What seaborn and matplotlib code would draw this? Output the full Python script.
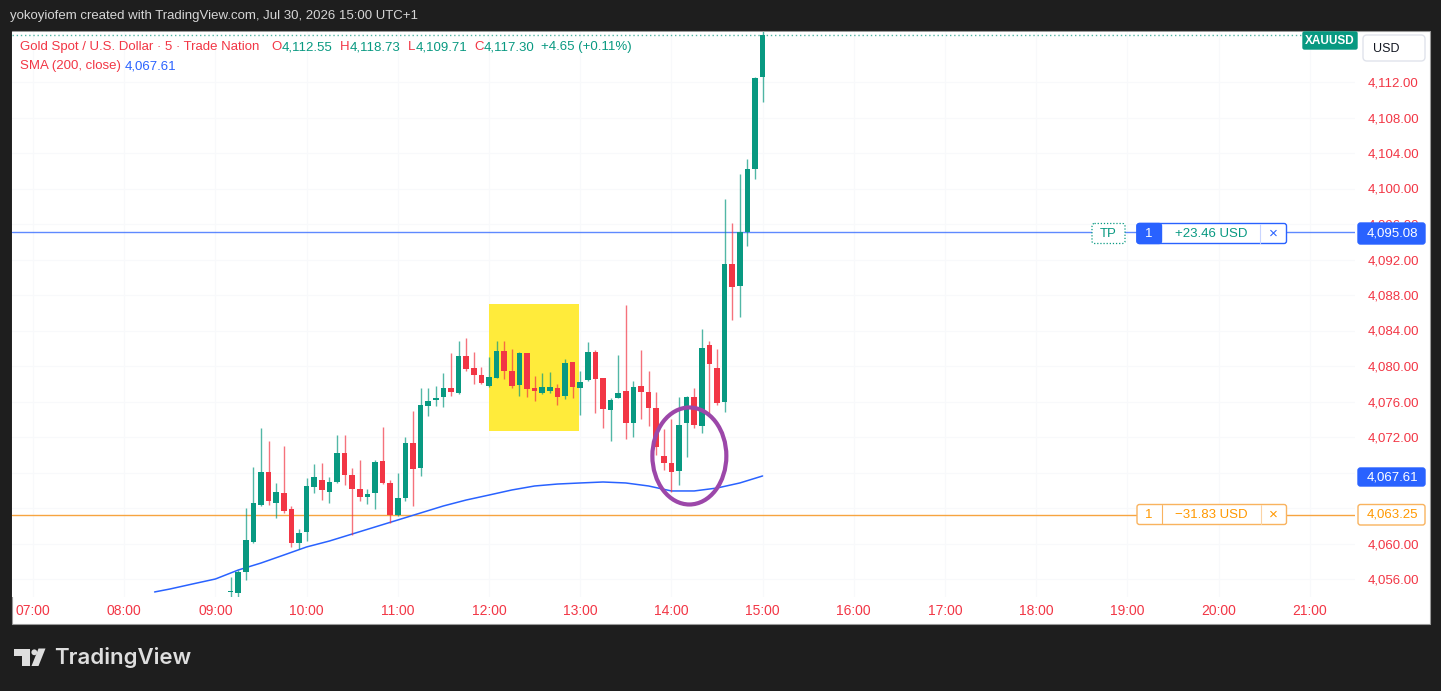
import numpy as np
import pandas as pd
import seaborn as sns
import matplotlib.pyplot as plt
from matplotlib.patches import Rectangle, Ellipse, Polygon, Circle, FancyBboxPatch

# 5-minute candles
times = ["09:10", "09:15", "09:20", "09:25", "09:30", "09:35", "09:40", "09:45", "09:50", "09:55",
         "10:00", "10:05", "10:10", "10:15", "10:20", "10:25", "10:30", "10:35", "10:40", "10:45",
         "10:50", "10:55", "11:00", "11:05", "11:10", "11:15", "11:20", "11:25", "11:30", "11:35",
         "11:40", "11:45", "11:50", "11:55", "12:00", "12:05", "12:10", "12:15", "12:20", "12:25",
         "12:30", "12:35", "12:40", "12:45", "12:50", "12:55", "13:00", "13:05", "13:10", "13:15",
         "13:20", "13:25", "13:30", "13:35", "13:40", "13:45", "13:50", "13:55", "14:00", "14:05",
         "14:10", "14:15", "14:20", "14:25", "14:30", "14:35", "14:40", "14:45", "14:50", "14:55",
         "15:00"]
opens = [4054.50, 4054.38, 4056.83, 4060.21, 4064.34, 4068.09, 4064.53, 4065.65, 4063.85, 4060.09,
         4061.33, 4066.33, 4067.15, 4065.84, 4066.97, 4070.23, 4067.72, 4066.18, 4065.28, 4065.65,
         4069.30, 4066.78, 4063.21, 4065.09, 4071.29, 4068.55, 4075.53, 4076.17, 4076.54, 4077.48,
         4076.99, 4081.13, 4079.74, 4078.99, 4077.75, 4078.69, 4081.69, 4079.44, 4077.86, 4081.43,
         4077.49, 4076.92, 4077.22, 4077.49, 4076.66, 4080.41, 4077.49, 4078.42, 4081.61, 4078.61,
         4075.04, 4076.43, 4077.18, 4073.54, 4077.79, 4077.11, 4075.30, 4069.90, 4069.03, 4068.17,
         4073.54, 4076.54, 4073.24, 4082.37, 4079.81, 4075.98, 4091.49, 4089.01, 4095.13, 4102.20,
         4112.55]
highs = [4056.26, 4057.01, 4063.96, 4068.58, 4072.98, 4071.55, 4066.85, 4070.99, 4064.23, 4061.60,
         4067.34, 4068.92, 4069.03, 4067.53, 4072.22, 4072.22, 4068.47, 4069.41, 4066.18, 4069.41,
         4073.16, 4067.15, 4067.98, 4072.04, 4074.93, 4077.48, 4077.48, 4077.75, 4079.25, 4081.43,
         4082.85, 4083.12, 4081.62, 4079.92, 4081.05, 4082.82, 4082.86, 4081.88, 4081.54, 4081.50,
         4078.87, 4079.25, 4079.32, 4077.94, 4080.75, 4080.50, 4079.47, 4082.74, 4081.80, 4078.70,
         4076.36, 4081.24, 4086.87, 4078.31, 4081.80, 4079.44, 4077.11, 4072.86, 4073.99, 4076.54,
         4076.62, 4077.48, 4084.13, 4082.86, 4081.88, 4098.78, 4096.15, 4101.63, 4103.29, 4112.60,
         4118.73]
lows = [4053.90, 4053.90, 4055.89, 4060.09, 4064.23, 4064.34, 4062.91, 4063.47, 4059.57, 4059.34,
        4060.32, 4065.65, 4064.90, 4064.60, 4066.78, 4066.59, 4060.96, 4064.83, 4064.45, 4063.85,
        4066.70, 4062.35, 4063.14, 4064.83, 4064.26, 4067.64, 4074.37, 4075.49, 4075.34, 4076.62,
        4076.84, 4079.47, 4077.94, 4077.94, 4077.67, 4078.61, 4078.54, 4077.56, 4076.62, 4076.54,
        4076.06, 4076.85, 4076.92, 4075.57, 4076.32, 4076.43, 4074.48, 4078.35, 4074.74, 4072.98,
        4071.59, 4076.36, 4071.74, 4072.04, 4074.03, 4073.24, 4069.97, 4068.28, 4065.84, 4066.59,
        4069.78, 4072.98, 4072.41, 4074.67, 4075.60, 4074.85, 4085.18, 4085.48, 4093.52, 4101.03,
        4109.71]
closes = [4054.70, 4056.75, 4060.39, 4064.53, 4068.09, 4064.79, 4065.77, 4063.70, 4060.09, 4061.22,
          4066.48, 4067.53, 4066.03, 4066.97, 4070.23, 4067.72, 4066.10, 4065.28, 4065.58, 4069.22,
          4066.78, 4063.21, 4065.09, 4071.29, 4068.36, 4075.61, 4076.09, 4076.43, 4077.48, 4077.11,
          4081.13, 4079.62, 4078.99, 4078.12, 4078.80, 4081.69, 4079.47, 4077.75, 4081.43, 4077.37,
          4077.18, 4077.60, 4077.60, 4076.55, 4080.30, 4077.60, 4078.24, 4081.62, 4078.53, 4075.15,
          4076.17, 4076.92, 4073.54, 4077.67, 4077.03, 4075.23, 4070.91, 4069.03, 4068.09, 4073.35,
          4076.54, 4073.35, 4082.07, 4080.19, 4075.79, 4091.49, 4088.94, 4095.06, 4102.20, 4112.49,
          4117.30]

# SMA (200, close) read every 15 minutes
sma_times = ["08:20", "08:30", "08:45", "09:00", "09:15", "09:30", "09:45", "10:00", "10:15", "10:30",
             "10:45", "11:00", "11:15", "11:30", "11:45", "12:00", "12:15", "12:30", "12:45", "13:00",
             "13:15", "13:30", "13:45", "14:00", "14:15", "14:30", "14:45", "15:00"]
sma_values = [4054.54, 4054.87, 4055.44, 4056.00, 4057.01, 4057.80, 4058.70, 4059.61, 4060.28, 4061.07,
              4061.86, 4062.65, 4063.44, 4064.23, 4064.90, 4065.46, 4066.03, 4066.48, 4066.70, 4066.82,
              4066.93, 4066.82, 4066.48, 4065.92, 4065.92, 4066.25, 4066.82, 4067.61]

tp_price = 4095.08
sl_price = 4063.25
tp_pnl = "+23.46 USD"
sl_pnl = "\u221231.83 USD"
change_text = "+4.65 (+0.11%)"
price_ticks = list(range(4056, 4113, 4))
time_ticks = ["07:00", "08:00", "09:00", "10:00", "11:00", "12:00", "13:00", "14:00",
              "15:00", "16:00", "17:00", "18:00", "19:00", "20:00", "21:00"]

GREEN = "#089981"
RED = "#f23645"
BLUE = "#2962ff"
ORANGE = "#ff9800"
BG = "#1e1e1e"


def to_hours(t):
    h, m = t.split(":")
    return int(h) + int(m) / 60


df = pd.DataFrame({"time": times, "open": opens, "high": highs, "low": lows, "close": closes})
df["x"] = df["time"].map(to_hours)
df["color"] = np.where(df["close"] >= df["open"], GREEN, RED)
df["bottom"] = df[["open", "close"]].min(axis=1)
df["body"] = (df["close"] - df["open"]).abs().clip(lower=0.15)

sma = pd.DataFrame({"x": [to_hours(t) for t in sma_times], "sma": sma_values})

sns.set_style("white")
plt.rcParams["font.family"] = ["Liberation Sans", "DejaVu Sans"]

W, H = 1441, 691
fig = plt.figure(figsize=(W / 100, H / 100), dpi=100, facecolor=BG)


def fx(px):
    return px / W


def fy(py):
    return 1 - py / H


# white chart panel (behind the axes)
fig.patches.append(Rectangle((fx(12), fy(624)), fx(1430) - fx(12), fy(31) - fy(624),
                             transform=fig.transFigure, facecolor="white", edgecolor="#9a9a9a",
                             lw=0.8, zorder=-10))

ax = fig.add_axes([fx(12), fy(597), fx(1355) - fx(12), fy(32) - fy(597)])
ax.set_facecolor("white")
ax.set_xlim(7 + (12 - 33) / 91.2, 7 + (1355 - 33) / 91.2)
ax.set_ylim(4112 - (597 - 82) / 8.875, 4112 - (32 - 82) / 8.875)

tick_x = [to_hours(t) for t in time_ticks]
for v in price_ticks:
    ax.axhline(v, color="#f8f9fb", lw=0.8, zorder=0)
for v in tick_x:
    ax.axvline(v, color="#f8f9fb", lw=0.8, zorder=0)

# highlight box
ax.add_patch(Rectangle((12.0, 4072.68), 12.987 - 12.0, 4086.99 - 4072.68,
                       facecolor="#ffeb3b", edgecolor="none", zorder=1))

ax.axhline(tp_price, color=BLUE, lw=1, alpha=0.75, zorder=1)
ax.axhline(sl_price, color="#f7a440", lw=1, zorder=1)
ax.axhline(closes[-1], xmax=(1303 - 12) / (1355 - 12), color=GREEN, lw=1,
           ls=(0, (1, 2)), alpha=0.7, zorder=1)

sns.lineplot(data=sma, x="x", y="sma", ax=ax, color=BLUE, lw=1.1, zorder=2)

ax.vlines(df["x"], df["low"], df["high"], colors=df["color"], lw=1, alpha=0.7, zorder=3)
ax.bar(df["x"], df["body"], bottom=df["bottom"], width=0.06, color=df["color"],
       linewidth=0, zorder=4)

ax.add_patch(Ellipse((14.197, 4069.86), 0.811, 10.93, fill=False, edgecolor="#9c47a9",
                     lw=3, zorder=5))

ax.set_xticks(tick_x)
ax.set_xticklabels(time_ticks)
ax.yaxis.tick_right()
ax.set_yticks(price_ticks)
ax.set_yticklabels([f"{v:,.2f}" for v in price_ticks])
ax.tick_params(axis="x", length=0, pad=5, labelcolor=RED, labelsize=10)
ax.tick_params(axis="y", length=0, pad=9, labelcolor=RED, labelsize=9.5)
ax.set_xlabel("")
ax.set_ylabel("")
for s in ax.spines.values():
    s.set_visible(False)

# overlay in pixel coordinates
ov = fig.add_axes([0, 0, 1, 1])
ov.set_xlim(0, W)
ov.set_ylim(H, 0)
ov.axis("off")
ov.patch.set_alpha(0)
renderer = fig.canvas.get_renderer()


def box(x0, y0, x1, y1, fc, ec, lw=1, ls="-", r=2.5):
    ov.add_patch(FancyBboxPatch((x0, y0), x1 - x0, y1 - y0,
                                boxstyle=f"round,pad=0,rounding_size={r}",
                                facecolor=fc, edgecolor=ec, lw=lw, ls=ls, zorder=5))


def label(x, y, s, color, size=9.5, **kw):
    return ov.text(x, y, s, color=color, fontsize=size, va="center", zorder=8, **kw)


def text_run(x, y, parts, size=9.5):
    # coloured pieces placed one after another on a line
    for s, c in parts:
        t = label(x, y, s, c, size)
        x += t.get_window_extent(renderer).width


label(10, 16, "yokoyiofem created with TradingView.com, Jul 30, 2026 15:00 UTC+1", "#d6d6d6")

# legend lines
label(20, 47, "Gold Spot / U.S. Dollar \u00b7 5 \u00b7 Trade Nation", RED)
for lx, letter, val in [(271, "O", opens[-1]), (340, "H", highs[-1]),
                        (408, "L", lows[-1]), (474, "C", closes[-1])]:
    text_run(lx, 47, [(letter, RED), (f"{val:,.2f}", GREEN)])
label(541, 47, change_text, GREEN)
label(20, 66, "SMA (200, close)", RED)
label(125, 66, f"{sma_values[-1]:,.2f}", BLUE)

# symbol and currency tags
box(1303, 32, 1357, 49, GREEN, GREEN, r=1.5)
label(1330, 40.5, "XAUUSD", "white", 8.5, fontweight="bold", ha="center")
box(1363, 35, 1425, 61, "white", "#e0e3eb", r=4)
label(1373, 48.5, "USD", "#131722", 9)

# take profit order
box(1092, 223.5, 1125, 243.5, "white", GREEN, lw=0.9, ls=(0, (1, 1.5)))
label(1108.5, 233.5, "TP", GREEN, ha="center")
box(1137, 223.5, 1286.5, 243.5, "white", BLUE)
box(1137, 223.5, 1161.5, 243.5, BLUE, BLUE)
ov.plot([1260, 1260], [224, 243], color="#c9d5ff", lw=0.8, zorder=6)
label(1149, 233.5, "1", "white", ha="center")
label(1211, 233.5, tp_pnl, GREEN, ha="center")
label(1273, 233.5, "\u00d7", BLUE, 11, ha="center")
box(1358, 223, 1425, 244, BLUE, BLUE)
label(1367, 233.5, f"{tp_price:,.2f}", "white")

# stop loss order
box(1137, 504.5, 1286.5, 524.5, "white", "#f9b35f")
ov.plot([1161.5, 1161.5], [505, 524], color="#f9b35f", lw=0.8, zorder=6)
ov.plot([1261, 1261], [505, 524], color="#fbd3a4", lw=0.8, zorder=6)
label(1149, 514.5, "1", ORANGE, ha="center")
label(1211, 514.5, sl_pnl, ORANGE, ha="center")
label(1273, 514.5, "\u00d7", ORANGE, 11, ha="center")
box(1358, 504.5, 1425, 525, "white", "#f9b35f")
label(1367, 514.8, f"{sl_price:,.2f}", ORANGE)

# SMA value tag
box(1358, 468, 1425, 486, BLUE, BLUE)
label(1367, 477, f"{sma_values[-1]:,.2f}", "white")

# TradingView logo
LOGO = "#dedede"
ov.add_patch(Polygon([(13.5, 648.5), (30, 648.5), (30, 666), (21.5, 666), (21.5, 655.5), (13.5, 655.5)],
                     closed=True, facecolor=LOGO, edgecolor="none"))
ov.add_patch(Circle((34.3, 652.3), 2.9, facecolor=LOGO, edgecolor="none"))
ov.add_patch(Polygon([(38.5, 648.5), (45.5, 648.5), (38.5, 666), (31.5, 666)],
                     closed=True, facecolor=LOGO, edgecolor="none"))
ov.text(54, 664.5, "TradingView", color=LOGO, fontsize=16, fontweight="semibold",
        family=["Inter", "DejaVu Sans"], va="baseline")

fig.savefig("out.png", dpi=100, facecolor=BG)
